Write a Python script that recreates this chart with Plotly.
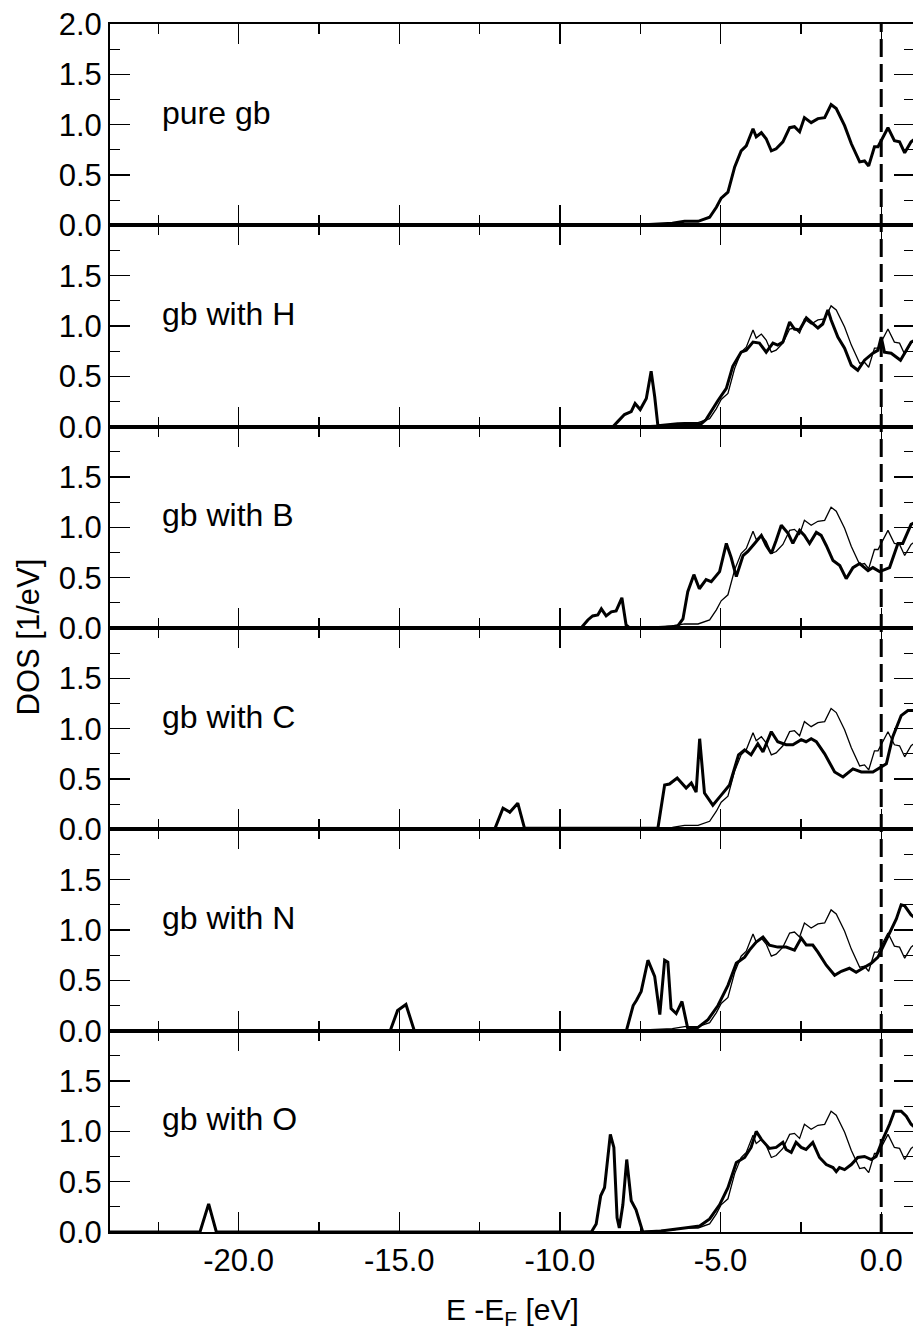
import plotly.graph_objects as go
from plotly.subplots import make_subplots

# ---------------- data ----------------
panel_labels = ["pure gb", "gb with H", "gb with B", "gb with C", "gb with N", "gb with O"]

x_tickvals = [-20, -15, -10, -5, 0]
x_ticktext = ["-20.0", "-15.0", "-10.0", "-5.0", "0.0"]
x_minor = [-22.5, -17.5, -12.5, -7.5, -2.5]
y_tickvals = [0, 0.5, 1.0, 1.5, 2.0]
y_ticktext = ["0.0", "0.5", "1.0", "1.5", "2.0"]
y_minor = [0.25, 0.75, 1.25, 1.75]

# pure grain boundary (thick in top panel, thin reference in the others)
pure_e = [-11.6, -9.0, -7.37, -6.5, -6.12, -5.7, -5.34, -5.13, -4.98, -4.77, -4.56, -4.36, -4.2, -3.99,
          -3.89, -3.73, -3.58, -3.42, -3.27, -3.06, -2.85, -2.7, -2.54, -2.39, -2.18, -1.97,
          -1.76, -1.56, -1.4, -1.14, -0.93, -0.67, -0.52, -0.39, -0.21, -0.1, 0.21, 0.41,
          0.57, 0.73, 0.93, 1.05]
pure_d = [0.0, 0.0, 0.007, 0.02, 0.04, 0.04, 0.08, 0.18, 0.27, 0.33, 0.58, 0.74, 0.79, 0.96,
          0.88, 0.92, 0.86, 0.74, 0.76, 0.83, 0.97, 0.98, 0.93, 1.07, 1.02, 1.06,
          1.07, 1.2, 1.16, 0.99, 0.81, 0.63, 0.64, 0.59, 0.78, 0.78, 0.97, 0.84,
          0.83, 0.72, 0.83, 0.86]

h_e = [-13.8, -8.35, -8.2, -7.99, -7.78, -7.66, -7.5, -7.31, -7.16, -7.05, -6.95, -6.33, -5.6,
       -5.45, -5.08, -4.82, -4.62, -4.36, -4.2, -3.99, -3.79, -3.58, -3.37, -3.22, -3.06,
       -2.85, -2.7, -2.54, -2.33, -2.18, -1.97, -1.82, -1.66, -1.56, -1.35, -1.14, -0.93,
       -0.73, -0.52, -0.26, -0.1, 0.0, 0.1, 0.31, 0.6, 0.93, 1.05]
h_d = [0.0, 0.0, 0.05, 0.12, 0.15, 0.23, 0.17, 0.28, 0.55, 0.3, 0.01, 0.03, 0.03,
       0.07, 0.26, 0.38, 0.6, 0.74, 0.76, 0.84, 0.83, 0.74, 0.83, 0.81, 0.84,
       1.04, 0.97, 0.96, 1.08, 1.04, 0.98, 1.02, 1.16, 1.06, 0.89, 0.78, 0.61,
       0.56, 0.66, 0.73, 0.76, 0.89, 0.74, 0.73, 0.66, 0.84, 0.86]

b_e = [-14.1, -9.34, -9.13, -8.98, -8.82, -8.71, -8.56, -8.4, -8.25, -8.07, -7.94, -7.83,
       -6.85, -6.33, -6.17, -6.02, -5.83, -5.66, -5.45, -5.29, -5.03, -4.82, -4.67, -4.51,
       -4.3, -4.15, -3.94, -3.73, -3.58, -3.42, -3.27, -3.11, -2.9, -2.75, -2.54, -2.39,
       -2.23, -2.02, -1.87, -1.71, -1.5, -1.29, -1.09, -0.88, -0.67, -0.41, -0.26, -0.05,
       0.26, 0.52, 0.67, 0.93, 1.05]
b_d = [0.0, 0.0, 0.08, 0.12, 0.13, 0.19, 0.12, 0.16, 0.17, 0.3, 0.03, 0.0,
       0.0, 0.02, 0.09, 0.36, 0.53, 0.39, 0.48, 0.46, 0.56, 0.84, 0.7, 0.51,
       0.72, 0.76, 0.84, 0.92, 0.82, 0.74, 0.87, 1.02, 0.94, 0.84, 0.97, 0.92,
       0.84, 0.95, 0.92, 0.82, 0.67, 0.62, 0.49, 0.6, 0.64, 0.57, 0.6, 0.56,
       0.6, 0.84, 0.84, 1.03, 1.05]

c_e = [-14.2, -12.03, -11.77, -11.56, -11.31, -11.1, -6.95, -6.74, -6.59, -6.35, -6.07, -5.91,
       -5.76, -5.65, -5.5, -5.24, -4.98, -4.72, -4.44, -4.25, -4.05, -3.84, -3.68, -3.42,
       -3.22, -2.96, -2.75, -2.49, -2.34, -2.18, -2.02, -1.76, -1.45, -1.19, -0.88, -0.62,
       -0.26, -0.1, 0.16, 0.36, 0.62, 0.83, 1.05]
c_d = [0.0, 0.0, 0.21, 0.17, 0.26, 0.01, 0.01, 0.44, 0.45, 0.51, 0.41, 0.46,
       0.37, 0.9, 0.36, 0.24, 0.34, 0.44, 0.74, 0.79, 0.74, 0.85, 0.77, 0.97,
       0.87, 0.84, 0.84, 0.89, 0.87, 0.9, 0.87, 0.75, 0.57, 0.52, 0.6, 0.57,
       0.57, 0.6, 0.65, 0.92, 1.13, 1.18, 1.18]

n_e = [-24.5, -15.28, -15.05, -14.95, -14.79, -14.53, -7.93, -7.72, -7.62, -7.47, -7.26,
       -7.05, -6.89, -6.74, -6.64, -6.54, -6.38, -6.2, -6.02, -5.71, -5.39, -5.08, -4.77,
       -4.51, -4.25, -4.1, -3.89, -3.68, -3.48, -3.22, -2.96, -2.7, -2.49, -2.33, -2.13,
       -1.97, -1.71, -1.45, -1.24, -0.99, -0.78, -0.52, -0.31, -0.1, 0.16, 0.47, 0.62,
       0.73, 0.93, 1.05]
n_d = [0.0, 0.0, 0.2, 0.22, 0.26, 0.0, 0.0, 0.25, 0.3, 0.39, 0.7,
       0.54, 0.16, 0.7, 0.68, 0.22, 0.17, 0.29, 0.02, 0.03, 0.11, 0.25, 0.45,
       0.67, 0.73, 0.8, 0.88, 0.93, 0.85, 0.83, 0.83, 0.8, 0.92, 0.85, 0.85,
       0.78, 0.65, 0.55, 0.59, 0.62, 0.58, 0.63, 0.67, 0.73, 0.9, 1.11, 1.25,
       1.24, 1.15, 1.12]

o_e = [-24.5, -21.2, -20.93, -20.69, -9.02, -8.87, -8.73, -8.61, -8.43, -8.32, -8.22, -8.15,
       -8.04, -7.92, -7.78, -7.63, -7.42, -6.85, -6.12, -5.65, -5.34, -5.03, -4.77, -4.51,
       -4.25, -4.05, -3.89, -3.73, -3.48, -3.27, -3.06, -2.96, -2.8, -2.65, -2.49, -2.34,
       -2.13, -1.92, -1.71, -1.5, -1.4, -1.3, -1.14, -0.93, -0.73, -0.52, -0.31, -0.16,
       0.05, 0.26, 0.41, 0.62, 0.78, 0.93, 1.05]
o_d = [0.0, 0.0, 0.28, 0.0, 0.0, 0.08, 0.36, 0.44, 0.97, 0.84, 0.14, 0.04,
       0.27, 0.72, 0.31, 0.22, 0.0, 0.01, 0.04, 0.06, 0.13, 0.27, 0.44, 0.69,
       0.74, 0.84, 1.0, 0.92, 0.83, 0.84, 0.89, 0.82, 0.79, 0.89, 0.84, 0.82,
       0.89, 0.74, 0.67, 0.64, 0.6, 0.64, 0.62, 0.67, 0.74, 0.75, 0.72, 0.75,
       0.92, 1.07, 1.2, 1.2, 1.15, 1.07, 1.04]

thick_e = [pure_e, h_e, b_e, c_e, n_e, o_e]
thick_d = [pure_d, h_d, b_d, c_d, n_d, o_d]

# ---------------- figure ----------------
FONT = "Liberation Sans, Arial, Helvetica, sans-serif"
TICK_SIZE = 31
N = 6
fig = make_subplots(rows=N, cols=1, vertical_spacing=0)

for i in range(N):
    row = i + 1
    if i > 0:
        fig.add_trace(go.Scatter(x=pure_e, y=pure_d, mode="lines",
                                 line=dict(color="black", width=1.3),
                                 showlegend=False, hoverinfo="skip"), row=row, col=1)
    fig.add_trace(go.Scatter(x=thick_e[i], y=thick_d[i], mode="lines",
                             line=dict(color="black", width=3),
                             showlegend=False, hoverinfo="skip"), row=row, col=1)

    fig.update_xaxes(range=[-24, 1.02], tickmode="array", tickvals=x_tickvals,
                     ticktext=x_ticktext, ticks="inside", ticklen=20, tickwidth=1.3,
                     tickcolor="black",
                     minor=dict(tickmode="array", tickvals=x_minor, ticks="inside",
                                ticklen=10, tickwidth=1.3, tickcolor="black", showgrid=False),
                     showline=True, linecolor="black", linewidth=2, mirror="ticks",
                     showgrid=False, zeroline=False,
                     showticklabels=(row == N),
                     tickfont=dict(family=FONT, size=TICK_SIZE, color="black"),
                     ticklabelstandoff=0,
                     row=row, col=1)

    tv = y_tickvals if i == 0 else y_tickvals[:-1]
    tt = y_ticktext if i == 0 else y_ticktext[:-1]
    fig.update_yaxes(range=[0, 2], tickmode="array", tickvals=tv, ticktext=tt,
                     ticks="inside", ticklen=20, tickwidth=1.3, tickcolor="black",
                     minor=dict(tickmode="array", tickvals=y_minor, ticks="inside",
                                ticklen=10, tickwidth=1.3, tickcolor="black", showgrid=False),
                     showline=True, linecolor="black", linewidth=2, mirror="ticks",
                     showgrid=False, zeroline=False,
                     tickfont=dict(family=FONT, size=TICK_SIZE, color="black"),
                     row=row, col=1)

    xref = "x" if row == 1 else f"x{row}"
    yref = "y" if row == 1 else f"y{row}"
    fig.add_annotation(x=-22.45, y=1.12, xref=xref, yref=yref, text=panel_labels[i],
                       showarrow=False, xanchor="left", yanchor="middle",
                       font=dict(family=FONT, size=32, color="black"))

# Fermi level dashed line across all panels
fig.add_shape(type="line", xref="x", yref="paper", x0=0, x1=0, y0=0, y1=1,
              line=dict(color="black", width=3, dash="18px,7px"))

# axis titles
fig.add_annotation(x=-0.102, y=0.493, xref="paper", yref="paper", text="DOS [1/eV]",
                   textangle=-90, showarrow=False, xanchor="center", yanchor="middle",
                   font=dict(family=FONT, size=31, color="black"))
fig.add_annotation(x=0.5, y=-0.066, xref="paper", yref="paper",
                   text="E -E<sub>F</sub> [eV]", showarrow=False,
                   xanchor="center", yanchor="middle",
                   font=dict(family=FONT, size=30, color="black"))

fig.update_layout(width=916, height=1331, autosize=False,
                  margin=dict(l=110, r=0, t=24, b=99),
                  paper_bgcolor="white", plot_bgcolor="white",
                  showlegend=False)

fig.write_html("out.html",
               config={"displayModeBar": False, "staticPlot": True},
               post_script="document.body.style.margin='0';"
                           "document.body.style.overflow='hidden';")
